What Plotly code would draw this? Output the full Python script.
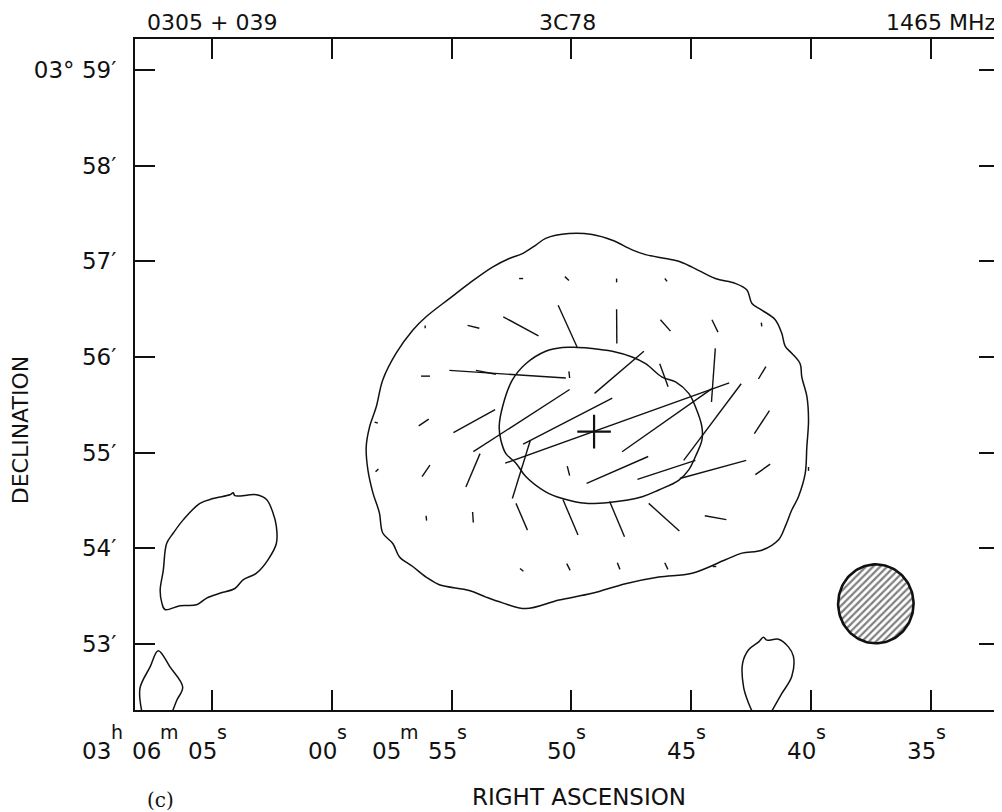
import numpy as np
import plotly.graph_objects as go

FONT = "DejaVu Sans"
INK = "#111111"

# ---------------- axes (RA in seconds relative to 03h06m00s, Dec in arcmin past 03 deg) -------------
ra_tickvals = [5, 0, -5, -10, -15, -20, -25]
# each tick label: list of (number, superscript unit)
ra_ticklabels = [[("03", "h"), ("06", "m"), ("05", "s")], [("00", "s")],
                 [("05", "m"), ("55", "s")], [("50", "s")], [("45", "s")],
                 [("40", "s")], [("35", "s")]]
dec_tickvals = [59, 58, 57, 56, 55, 54, 53]
dec_ticktext = ["03° 59′", "58′", "57′", "56′", "55′", "54′", "53′"]
ra_range = [8.21, -27.85]
dec_range = [52.31, 59.324]

# ---------------- contours ----------------
outer_ra = [-8.93, -9.90, -10.87, -11.71, -12.54, -13.10, -13.93, -14.48, -15.04, -16.01,
            -16.84, -17.33, -17.54, -17.95, -18.51, -18.78, -18.93, -19.20, -19.55, -19.62,
            -19.83, -19.90, -19.83, -19.76, -19.48, -19.20, -18.93, -18.65, -17.95, -17.12,
            -16.43, -15.04, -13.65, -12.26, -10.87, -9.49, -8.10, -7.13, -6.44, -5.74,
            -4.49, -3.94, -3.38, -2.83, -2.55, -2.13, -1.99, -1.72, -1.51, -1.44,
            -1.58, -1.86, -2.13, -2.69, -3.38, -3.94, -4.91, -5.74, -6.71, -7.41,
            -7.96, -8.52, -8.93]
outer_dec = [57.24, 57.29, 57.28, 57.22, 57.12, 57.07, 57.03, 57.00, 56.94, 56.82,
             56.77, 56.70, 56.56, 56.49, 56.39, 56.25, 56.11, 56.04, 55.93, 55.79,
             55.59, 55.34, 55.06, 54.78, 54.54, 54.40, 54.23, 54.09, 53.98, 53.95,
             53.88, 53.74, 53.70, 53.63, 53.53, 53.46, 53.37, 53.43, 53.49, 53.56,
             53.62, 53.70, 53.81, 53.91, 54.05, 54.16, 54.37, 54.58, 54.82, 55.06,
             55.27, 55.48, 55.76, 56.04, 56.28, 56.42, 56.61, 56.77, 56.94, 57.03,
             57.08, 57.17, 57.24]

inner_ra = [-10.25, -10.87, -11.71, -12.54, -13.10, -13.79, -14.35, -14.90, -15.18, -15.45,
            -15.45, -15.18, -14.90, -14.48, -13.65, -12.96, -11.57, -10.60, -9.63, -8.93,
            -8.10, -7.69, -7.27, -7.06, -6.99, -7.13, -7.54, -8.10, -8.93, -9.63, -10.25]
inner_dec = [56.10, 56.09, 56.06, 56.00, 55.93, 55.79, 55.74, 55.62, 55.48, 55.27,
             55.13, 54.96, 54.82, 54.71, 54.61, 54.54, 54.48, 54.47, 54.52, 54.59,
             54.75, 54.89, 54.99, 55.13, 55.27, 55.48, 55.76, 55.93, 56.06, 56.10, 56.10]

blob_w_ra = [4.11, 4.04, 3.14, 2.72, 2.45, 2.31, 2.31, 2.66, 3.14, 3.70, 4.04, 4.67, 5.22,
             5.64, 6.33, 6.96, 7.09, 7.16, 7.03, 6.89, 6.61, 6.19, 5.50, 4.95, 4.25, 4.11]
blob_w_dec = [54.58, 54.55, 54.56, 54.51, 54.37, 54.23, 54.05, 53.88, 53.74, 53.67, 53.58,
              53.53, 53.48, 53.41, 53.40, 53.36, 53.43, 53.56, 53.77, 54.05, 54.16, 54.30,
              54.47, 54.52, 54.56, 54.58]

blob_sw_ra = [7.93, 8.00, 7.58, 7.24, 6.75, 6.22, 6.47, 6.64]
blob_sw_dec = [52.30, 52.54, 52.76, 52.93, 52.76, 52.55, 52.41, 52.30]

blob_s_ra = [-17.54, -17.40, -17.19, -17.15, -17.40, -17.81, -18.02, -18.16, -18.65,
             -19.06, -19.27, -19.20, -18.78, -18.37]
blob_s_dec = [52.30, 52.38, 52.55, 52.80, 52.94, 53.02, 53.07, 53.04, 53.05,
              52.97, 52.87, 52.66, 52.48, 52.30]

# ---------------- polarization vectors (endpoints) ----------------
vec_ra0 = [-7.82, -9.73, -11.89, -13.90, -5.67, -7.16, -9.45, -11.89, -13.72, -15.87,
           -17.93, -3.90, -3.73, -4.91, -6.02, -9.90, -10.97, -13.69, -16.01, -17.81,
           -3.63, -5.08, -5.91, -7.99, -7.24, -12.12, -14.69, -17.64, -1.79, -8.29,
           -1.83, -3.77, -5.60, -9.83, -10.64, -12.76, -14.53, -17.68, -19.90,
           -3.94, -5.88, -7.69, -9.65, -11.60, -13.23, -15.57,
           -7.86, -9.81, -11.92, -13.90, -15.90]
vec_dec0 = [56.82, 56.84, 56.82, 56.82, 56.33, 56.42, 56.54, 56.50, 56.39, 56.39,
            56.36, 56.33, 55.80, 55.86, 55.86, 55.85, 55.62, 55.93, 56.09, 55.77,
            55.28, 55.21, 55.01, 55.09, 54.89, 55.01, 54.92, 55.20, 55.32, 55.13,
            54.80, 54.75, 54.64, 54.86, 54.68, 54.72, 54.73, 54.77, 54.85,
            54.34, 54.38, 54.47, 54.51, 54.49, 54.47, 54.34,
            53.79, 53.84, 53.85, 53.85, 53.81]
vec_ra1 = [-7.99, -9.90, -11.89, -14.00, -6.16, -8.63, -10.25, -11.90, -14.14, -16.12,
           -17.95, -3.90, -4.10, -9.77, -6.85, -9.93, -13.03, -14.04, -15.85, -18.12,
           -4.05, -6.82, -9.93, -11.71, -16.59, -15.87, -17.09, -18.27, -1.92, -7.54,
           -1.95, -4.10, -6.19, -9.93, -13.21, -15.18, -17.30, -18.30, -19.90,
           -3.96, -5.91, -8.17, -10.28, -12.22, -14.51, -16.47,
           -8.00, -9.95, -12.03, -14.03, -16.05]
vec_dec1 = [56.82, 56.80, 56.78, 56.79, 56.30, 56.22, 56.10, 56.14, 56.27, 56.26,
            56.32, 56.30, 55.80, 55.78, 55.82, 55.78, 56.06, 55.69, 55.53, 55.90,
            55.35, 55.45, 55.66, 55.57, 55.73, 55.67, 55.72, 55.44, 55.31, 54.52,
            54.83, 54.87, 54.99, 54.76, 54.96, 54.92, 54.92, 54.88, 54.81,
            54.29, 54.27, 54.19, 54.14, 54.12, 54.18, 54.30,
            53.76, 53.77, 53.78, 53.78, 53.81]

# ---------------- optical position & beam ----------------
core_ra, core_dec = -10.95, 55.22
beam_ra, beam_dec = -22.71, 53.42      # centre
beam_a_ra, beam_b_dec = 1.574, 0.413   # semi-axes (s, arcmin)

fig = go.Figure()

contour_style = dict(mode="lines", line=dict(color=INK, width=1.5), hoverinfo="skip",
                     showlegend=False)
for xs, ys in [(outer_ra, outer_dec), (inner_ra, inner_dec), (blob_w_ra, blob_w_dec),
               (blob_sw_ra, blob_sw_dec), (blob_s_ra, blob_s_dec)]:
    fig.add_trace(go.Scatter(x=xs, y=ys, line_shape="spline", **contour_style))

vx, vy = [], []
for a, b, c, d in zip(vec_ra0, vec_dec0, vec_ra1, vec_dec1):
    vx += [a, c, None]
    vy += [b, d, None]
fig.add_trace(go.Scatter(x=vx, y=vy, mode="lines", line=dict(color=INK, width=1.4),
                         hoverinfo="skip", showlegend=False))

fig.add_trace(go.Scatter(x=[core_ra], y=[core_dec], mode="markers",
                         marker=dict(symbol="cross-thin", size=24,
                                     line=dict(color=INK, width=2.2)),
                         showlegend=False))

t = np.linspace(0, 2 * np.pi, 121)
fig.add_trace(go.Scatter(x=beam_ra + beam_a_ra * np.cos(t), y=beam_dec + beam_b_dec * np.sin(t),
                         mode="lines", fill="toself", fillcolor="white",
                         fillpattern=dict(shape="/", size=5, solidity=0.45,
                                          fgcolor="black", bgcolor="white"),
                         line=dict(color=INK, width=2.6), showlegend=False, hoverinfo="skip"))

axis_common = dict(ticks="inside", ticklen=20, tickwidth=2, tickcolor=INK,
                   showline=True, linewidth=2, linecolor=INK, mirror="ticks",
                   showgrid=False, zeroline=False)
fig.update_xaxes(range=ra_range, tickvals=ra_tickvals, showticklabels=False, **axis_common)
fig.update_yaxes(range=dec_range, tickvals=dec_tickvals, ticktext=dec_ticktext,
                 tickfont=dict(family=FONT, size=23, color=INK), ticklabelstandoff=12,
                 **axis_common)

# RA tick labels: numbers with raised unit letters, laid out right-to-left from each tick
num_font = dict(family=FONT, size=23, color=INK)
sup_font = dict(family=FONT, size=19, color=INK)
unit_w = {"h": 11, "m": 17, "s": 9}
NUM_W, GAP = 30, 8
ann = []
for v, parts in zip(ra_tickvals, ra_ticklabels):
    cursor = 16
    for num, unit in reversed(parts):
        ann.append(dict(x=v, xref="x", y=0, yref="paper", xanchor="right", yanchor="middle",
                        xshift=cursor, yshift=-22, text=unit, showarrow=False,
                        font=sup_font, borderpad=0))
        cursor -= unit_w[unit] + 1
        ann.append(dict(x=v, xref="x", y=0, yref="paper", xanchor="right", yanchor="middle",
                        xshift=cursor, yshift=-41, text=num, showarrow=False,
                        font=num_font, borderpad=0))
        cursor -= NUM_W + GAP

top_font = dict(family=FONT, size=22, color=INK)
ann += [
    dict(x=0.089, xref="paper", y=1, yref="paper", yanchor="bottom", xanchor="center",
         yshift=2, text="0305 + 039", showarrow=False, font=top_font),
    dict(x=0.5, xref="paper", y=1, yref="paper", yanchor="bottom", xanchor="center",
         yshift=2, text="3C78", showarrow=False, font=top_font),
    dict(x=0.999, xref="paper", y=1, yref="paper", yanchor="bottom", xanchor="right",
         yshift=2, text="1465 MHz", showarrow=False, font=top_font),
    dict(x=-0.133, xref="paper", y=0.417, yref="paper", xanchor="center", yanchor="middle",
         text="DECLINATION", textangle=-90, showarrow=False,
         font=dict(family=FONT, size=22, color=INK)),
    dict(x=0.514, xref="paper", y=-0.13, yref="paper", xanchor="center", yanchor="middle",
         text="RIGHT ASCENSION", showarrow=False, font=dict(family=FONT, size=23, color=INK)),
    dict(x=0.030, xref="paper", y=-0.134, yref="paper", xanchor="center", yanchor="middle",
         text="(c)", showarrow=False, font=dict(family="DejaVu Serif", size=20, color=INK)),
]

# the page body has an 8px margin, so the figure is 8px smaller than the window
fig.update_layout(width=994, height=804, margin=dict(l=127, r=1, t=31, b=102),
                  plot_bgcolor="white", paper_bgcolor="white", showlegend=False,
                  annotations=ann, font=dict(family=FONT, color=INK))

fig.write_html("out.html")
